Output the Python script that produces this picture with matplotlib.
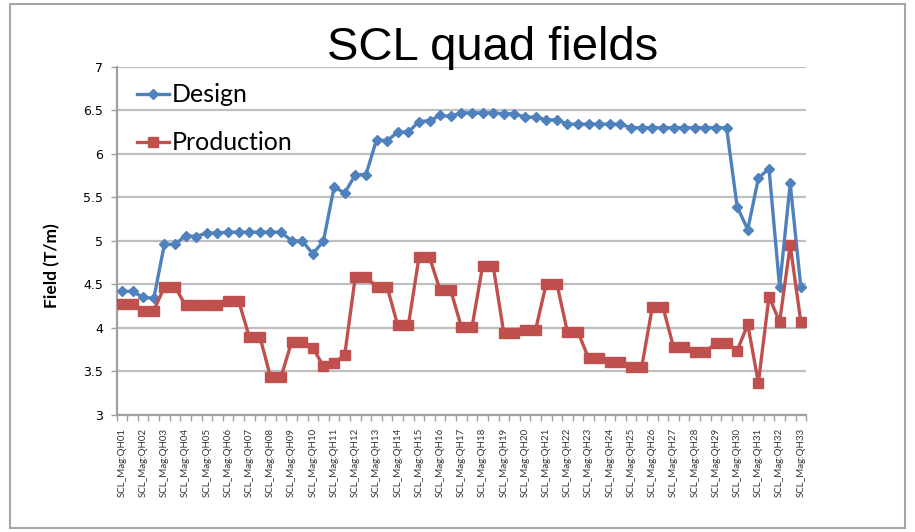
import matplotlib
matplotlib.use("Agg")
import matplotlib.pyplot as plt
import numpy as np
from matplotlib.patches import Rectangle

# quad field per magnet position (T/m), 65 positions
design = [4.42, 4.42, 4.35, 4.34, 4.96, 4.96, 5.06, 5.05, 5.09, 5.09,
          5.10, 5.10, 5.10, 5.10, 5.10, 5.10, 5.00, 5.00, 4.85, 5.00,
          5.62, 5.55, 5.76, 5.76, 6.16, 6.15, 6.25, 6.25, 6.37, 6.38,
          6.44, 6.43, 6.47, 6.47, 6.47, 6.47, 6.46, 6.46, 6.42, 6.42,
          6.39, 6.39, 6.34, 6.34, 6.34, 6.34, 6.34, 6.34, 6.30, 6.30,
          6.30, 6.30, 6.30, 6.30, 6.30, 6.30, 6.30, 6.30, 5.39, 5.13,
          5.72, 5.83, 4.47, 5.66, 4.47]
production = [4.28, 4.28, 4.20, 4.20, 4.47, 4.47, 4.26, 4.26, 4.26, 4.26,
              4.31, 4.31, 3.90, 3.90, 3.44, 3.44, 3.84, 3.84, 3.77, 3.56,
              3.60, 3.69, 4.59, 4.59, 4.47, 4.47, 4.03, 4.03, 4.81, 4.81,
              4.43, 4.43, 4.01, 4.01, 4.71, 4.71, 3.94, 3.94, 3.98, 3.98,
              4.51, 4.51, 3.95, 3.95, 3.65, 3.65, 3.61, 3.61, 3.55, 3.55,
              4.24, 4.24, 3.78, 3.78, 3.72, 3.72, 3.83, 3.83, 3.74, 4.04,
              3.37, 4.36, 4.07, 4.95, 4.07]
magnets = ["SCL_Mag:QH%02d" % n for n in range(1, 34)]

fig = plt.figure(figsize=(9.15, 5.32), dpi=100)
ax = fig.add_axes([0.1275, 0.2199, 0.7535, 0.6547])

x = np.arange(len(design))
ax.plot(x, design, color="#4F81BD", lw=2.4, marker="D", ms=5.2,
        label="Design", zorder=3)
ax.plot(x, production, color="#C0504D", lw=2.4, marker="s", ms=7.5,
        label="Production", zorder=3)

ax.set_xlim(-0.5, len(design) - 0.5)
ax.set_ylim(3, 7)
ax.set_yticks(np.arange(3, 7.01, 0.5))
ax.set_yticklabels(["3", "3.5", "4", "4.5", "5", "5.5", "6", "6.5", "7"])
ax.grid(axis="y", color="#BFBFBF", lw=1.6)
ax.set_axisbelow(True)

# labels on every other category, tick marks between categories
ax.set_xticks(x[::2])
ax.set_xticklabels(magnets, rotation=90, fontsize=7, family="Lato",
                   color="#333333")
ax.set_xticks(np.arange(-0.5, len(design), 1), minor=True)
ax.tick_params(axis="x", which="major", length=0, pad=9)
ax.tick_params(axis="x", which="minor", length=4, color="#A0A0A0", width=1)
ax.tick_params(axis="y", length=4, color="#A0A0A0", width=1, pad=6,
               labelsize=9)

for s in ["top", "right"]:
    ax.spines[s].set_visible(False)
for s in ["left", "bottom"]:
    ax.spines[s].set_color("#A0A0A0")
    ax.spines[s].set_linewidth(1.6)

ax.set_ylabel("Field (T/m)", fontsize=12.5, fontweight="bold", family="Lato")
ax.yaxis.set_label_coords(-0.082, 0.43)

ax.legend(loc="upper left", bbox_to_anchor=(0.1497, 0.8435),
          bbox_transform=fig.transFigure, frameon=False, borderpad=0,
          borderaxespad=0, labelspacing=1.0, handlelength=1.3,
          handletextpad=0.1, prop={"family": "Lato", "size": 18})

fig.text(0.538, 0.887, "SCL quad fields", ha="center", va="baseline",
         fontsize=34, family="Liberation Sans")

fig.patches.append(Rectangle((0.011, 0.008), 0.978, 0.985, fill=False,
                             transform=fig.transFigure, ec="#A6A6A6", lw=1.5))

fig.savefig("out.png", dpi=100)
